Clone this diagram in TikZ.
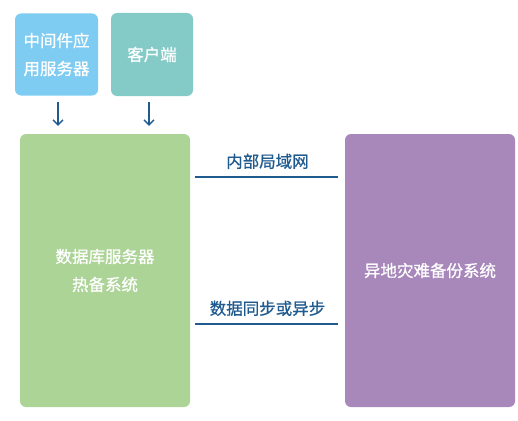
\documentclass[tikz,border=0pt]{standalone}
\usepackage{fontspec}
\usepackage{tikz}
\usetikzlibrary{arrows.meta}
\newfontfamily\cjk{Noto Sans CJK SC}[FakeBold=0.7]

\definecolor{midblue}{HTML}{7FCCF2}
\definecolor{cliteal}{HTML}{84CBC7}
\definecolor{dbgreen}{HTML}{ACD497}
\definecolor{drpurple}{HTML}{A888BB}
\definecolor{linkblue}{HTML}{1F5B8E}

\begin{document}
\begin{tikzpicture}[x=1pt, y=-1pt,
  box/.style={rounded corners=6pt, text=white, align=center, font=\cjk\fontsize{16.5}{28}\selectfont, inner sep=0pt},
  link/.style={linkblue, line width=1.4pt},
  down/.style={linkblue, line width=1.4pt, -{Straight Barb[length=5pt, width=10pt]}},
  lbl/.style={text=linkblue, font=\cjk\fontsize{16.5}{18}\selectfont}]

  % 画布 518 x 420
  \useasboundingbox (0,0) rectangle (518,420);

  % 上方两个框
  \node[box, fill=midblue, minimum width=83pt, minimum height=82pt] (mid) at (56.5,54.5) {中间件应\\用服务器};
  \node[box, fill=cliteal, minimum width=82pt, minimum height=83pt] (cli) at (152,54.5) {客户端};

  % 数据库服务器热备系统
  \node[box, fill=dbgreen, minimum width=170pt, minimum height=273pt] (db) at (105,270.5) {数据库服务器\\热备系统};
  % 异地灾难备份系统
  \node[box, fill=drpurple, minimum width=170pt, minimum height=273pt] (dr) at (430,270.5) {异地灾难备份系统};

  % 箭头
  \draw[down, shorten <=6pt, shorten >=8pt] ([xshift=1.5pt]mid.south) -- ([xshift=1.5pt]mid.south |- db.north);
  \draw[down, shorten <=6pt, shorten >=8pt] ([xshift=-3pt]cli.south) -- ([xshift=-3pt]cli.south |- db.north);

  % 连线
  \draw[link, shorten <=5pt, shorten >=7pt] (db.east |- 0,177) -- (dr.west |- 0,177)
    node[lbl, midway, above=4pt] (lan) {内部局域网};
  \draw[link, shorten <=5pt, shorten >=7pt] (db.east |- 0,324) -- (dr.west |- 0,324)
    node[lbl, midway, above=4pt] (sync) {数据同步或异步};

\end{tikzpicture}
\end{document}
